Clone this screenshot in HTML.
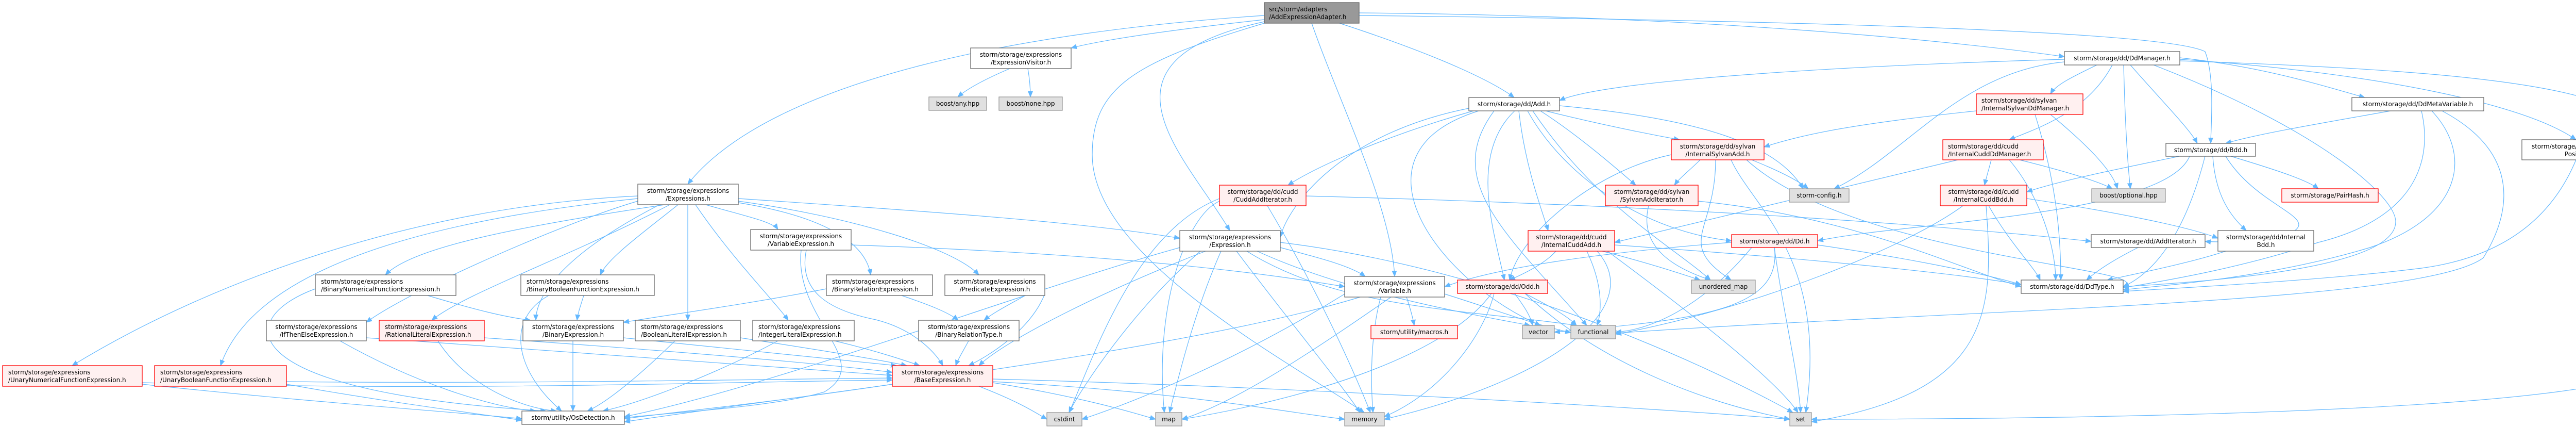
<!DOCTYPE html>
<html><head><meta charset="utf-8"><style>
html,body{margin:0;padding:0;background:#fff;}
svg{display:block;}
text{font-family:"DejaVu Sans","Liberation Sans",sans-serif;font-size:12px;fill:#000;}
.e{fill:none;stroke:#63b8ff;stroke-width:1.2;}
.w{fill:#fff;stroke:#666;stroke-width:1.3;}
.r{fill:#fff0f0;stroke:#ff0000;stroke-width:1.3;}
.g{fill:#e0e0e0;stroke:#999;stroke-width:1.3;}
.k{fill:#999;stroke:#666;stroke-width:1.3;}
</style></head><body>
<svg width="5158" height="828" viewBox="0 0 5158 828" xmlns="http://www.w3.org/2000/svg">
<defs><marker id="a" markerWidth="12" markerHeight="10" refX="11" refY="5" orient="auto" markerUnits="userSpaceOnUse"><path d="M0,0 L12,5 L0,10 z" fill="#63b8ff"/></marker></defs>
<g class="e" marker-end="url(#a)">
<!-- root -->
<path d="M2454,30 C2000,60 1500,150 1335,357"/>
<path d="M2454,38 C2300,55 2150,75 2079,93"/>
<path d="M2454,42 C2100,120 2300,300 2387,447"/>
<path d="M2546,45 C2600,200 2700,400 2707,536"/>
<path d="M2600,45 C2800,110 2900,160 2939,189"/>
<path d="M2638,25 C3300,30 3800,80 4007,110"/>
<path d="M2454,45 C2200,120 2120,170 2120,300 C2120,500 2500,700 2648,800"/>
<path d="M2638,30 C3500,40 4200,60 4280,100 C4300,150 4291,250 4291,278"/>
<!-- ExpressionVisitor -->
<path d="M1960,133 C1920,150 1880,170 1859,188"/>
<path d="M1995,133 C1998,150 2000,170 2000,188"/>
<!-- Expressions.h -->
<path d="M1238,380 C800,400 400,550 140,709"/>
<path d="M1238,385 C900,420 500,500 428,709"/>
<path d="M1238,390 C1100,430 800,560 711,625"/>
<path d="M1290,397 C1000,440 800,480 748,533"/>
<path d="M1300,397 C1100,500 900,570 838,621"/>
<path d="M1316,397 C1250,450 1180,500 1165,533"/>
<path d="M1280,397 C1080,500 1040,580 1040,621"/>
<path d="M1335,397 L1335,621"/>
<path d="M1350,397 C1420,500 1500,580 1530,621"/>
<path d="M1370,397 C1450,420 1500,430 1510,445"/>
<path d="M1433,393 C1600,420 1680,470 1690,533"/>
<path d="M1433,390 C1650,420 1850,480 1900,533"/>
<path d="M1433,385 C1800,410 2100,430 2290,462"/>
<!-- leaves to OsDetection/Base -->
<path d="M276,745 C600,780 900,800 1013,812"/>
<path d="M276,742 C900,760 1400,740 1732,737"/>
<path d="M556,745 C750,780 950,805 1013,815"/>
<path d="M556,740 C1000,745 1500,735 1732,733"/>
<path d="M660,661 C800,740 950,790 1040,797"/>
<path d="M711,655 C1100,680 1500,710 1732,728"/>
<path d="M612,560 C450,620 450,760 1060,797"/>
<path d="M830,573 C920,600 980,615 1030,621"/>
<path d="M850,661 C900,740 1000,790 1080,797"/>
<path d="M940,655 C1300,680 1600,705 1732,722"/>
<path d="M1065,573 C980,620 1000,720 1090,797"/>
<path d="M1133,573 C1128,590 1122,605 1120,621"/>
<path d="M1112,661 L1112,797"/>
<path d="M1210,655 C1450,680 1650,700 1740,709"/>
<path d="M1310,661 C1250,720 1180,780 1140,797"/>
<path d="M1437,655 C1600,680 1720,700 1760,709"/>
<path d="M1510,661 C1400,720 1250,780 1170,797"/>
<path d="M1620,661 C1700,680 1760,700 1785,709"/>
<path d="M1565,485 C1550,560 1600,600 1700,620 C1780,640 1820,690 1830,709"/>
<path d="M1555,485 C1540,620 1700,700 1600,760 C1500,790 1300,800 1212,810"/>
<path d="M1652,475 C2100,490 2400,520 2610,556"/>
<path d="M1604,560 C1450,590 1300,610 1210,625"/>
<path d="M1750,573 C1800,590 1840,605 1860,621"/>
<path d="M1990,573 C1960,590 1930,605 1910,621"/>
<path d="M2028,570 C2000,640 1920,690 1880,709"/>
<path d="M1880,661 C1870,680 1860,695 1855,709"/>
<!-- BaseExpression -->
<path d="M1732,745 C1500,780 1300,800 1212,812"/>
<path d="M1900,749 C1980,780 2010,800 2032,813"/>
<path d="M1927,742 C2100,770 2200,800 2243,813"/>
<path d="M1927,740 C2300,760 2500,800 2610,813"/>
<path d="M1927,735 C2500,750 3200,790 3474,813"/>
<!-- Expression.h -->
<path d="M2340,487 C2150,560 1950,660 1900,709"/>
<path d="M2290,480 C2000,560 1500,750 1212,808"/>
<path d="M2370,487 C2320,600 2290,720 2270,800"/>
<path d="M2400,487 C2500,620 2600,740 2640,800"/>
<path d="M2485,480 C2560,500 2620,515 2650,536"/>
<path d="M2420,487 C2600,600 2850,600 3060,631"/>
<path d="M2440,487 C2600,560 2800,600 2970,631"/>
<path d="M2485,470 C2900,520 3300,700 3480,800"/>
<path d="M2330,487 C2200,600 2100,750 2075,800"/>
<!-- CuddAddIterator -->
<path d="M2367,385 C2200,450 2120,700 2075,800"/>
<path d="M2367,390 C2300,420 2240,600 2260,800"/>
<path d="M2460,399 C2550,550 2620,700 2660,800"/>
<path d="M2535,380 C3300,400 3800,440 4059,468"/>
<!-- Variable.h -->
<path d="M2730,576 C2738,600 2742,615 2745,631"/>
<path d="M2680,576 C2660,650 2660,740 2665,800"/>
<path d="M2640,576 C2300,680 1600,760 1212,818"/>
<path d="M2700,576 C2550,680 2400,780 2294,813"/>
<path d="M2610,570 C2400,700 2200,780 2100,813"/>
<path d="M2804,570 C2900,600 2980,630 3049,645"/>
<!-- Add.h -->
<path d="M2860,215 C2700,260 2560,320 2500,359"/>
<path d="M3000,215 C3100,240 3200,260 3260,271"/>
<path d="M2990,215 C3060,260 3130,320 3175,359"/>
<path d="M2948,215 C2960,320 2990,400 3005,447"/>
<path d="M2965,215 C3040,350 3200,450 3361,467"/>
<path d="M2940,215 C2850,300 2900,450 2920,543"/>
<path d="M3027,205 C3300,230 3450,280 3500,366"/>
<path d="M2975,215 C3100,400 3250,480 3320,543"/>
<path d="M2900,215 C2800,350 2920,450 3080,631"/>
<path d="M2870,215 C2600,300 2800,550 2990,631"/>
<path d="M2851,210 C2600,260 2500,400 2485,460"/>
<!-- InternalSylvanAdd -->
<path d="M3300,310 C3280,330 3260,345 3250,359"/>
<path d="M3400,310 C3450,330 3490,350 3510,366"/>
<path d="M3330,310 C3330,450 3250,470 3360,543"/>
<path d="M3360,310 C3400,400 3550,500 3505,800"/>
<path d="M3244,300 C3100,330 2950,450 2930,543"/>
<path d="M3390,310 C3600,500 4200,520 4121,556"/>
<!-- SylvanAddIterator -->
<path d="M3200,399 C3180,480 3250,520 3320,543"/>
<path d="M3296,390 C3600,420 3800,520 3923,556"/>
<!-- InternalCuddAdd -->
<path d="M3020,487 C3000,510 2960,530 2930,543"/>
<path d="M3110,487 C3200,510 3260,530 3300,543"/>
<path d="M3080,487 C3110,550 3110,600 3100,631"/>
<path d="M3120,487 C3300,620 3450,740 3490,800"/>
<path d="M3100,487 C3200,600 3000,740 2687,813"/>
<path d="M3134,475 C3500,500 3800,530 3923,552"/>
<!-- Dd.h -->
<path d="M3444,480 C3460,600 3490,720 3495,800"/>
<path d="M3444,480 C3460,600 3300,620 3017,644"/>
<path d="M3400,480 C3300,600 3200,640 3136,644"/>
<path d="M3528,475 C3700,500 3850,530 3923,552"/>
<path d="M3361,470 C3100,490 2900,520 2804,556"/>
<!-- Odd.h -->
<path d="M2940,569 C2955,590 2970,610 2975,631"/>
<path d="M2960,569 C3000,590 3040,610 3060,631"/>
<path d="M2900,569 C2880,650 2800,760 2687,808"/>
<path d="M2895,569 C2800,700 2500,780 2294,813"/>
<path d="M2960,569 C3100,700 3300,780 3474,813"/>
<!-- DdManager -->
<path d="M4070,126 C4020,150 3990,165 3980,182"/>
<path d="M4100,126 C4050,220 3950,250 3900,271"/>
<path d="M4135,126 C4200,200 4250,250 4265,278"/>
<path d="M4122,126 C4125,250 4130,320 4135,366"/>
<path d="M4231,112 C4400,130 4520,170 4590,189"/>
<path d="M4231,115 C4600,140 4900,200 5000,271"/>
<path d="M4007,115 C3500,130 3100,160 3027,195"/>
<path d="M4007,120 C3800,140 3700,300 3560,366"/>
<path d="M4231,118 C4900,140 5150,180 5150,300 L5150,700 C5150,800 4000,813 3516,813"/>
<path d="M4180,126 C4500,250 4650,380 4650,430 C4650,520 4300,545 4121,556"/>
<!-- InternalSylvanDdManager -->
<path d="M3980,222 C4050,280 4100,330 4110,366"/>
<path d="M3950,222 C3990,350 4000,450 4000,543"/>
<path d="M3836,215 C3600,240 3500,260 3424,285"/>
<!-- InternalCuddDdManager -->
<path d="M3865,310 C3860,330 3855,345 3852,359"/>
<path d="M3920,310 C4000,330 4070,350 4100,366"/>
<path d="M3900,310 C3960,380 3990,480 3990,543"/>
<path d="M3800,310 C3500,380 3300,430 3134,470"/>
<!-- Bdd.h -->
<path d="M4230,303 C4100,330 4000,350 3934,372"/>
<path d="M4330,303 C4420,330 4480,350 4500,366"/>
<path d="M4295,303 C4300,380 4330,420 4360,447"/>
<path d="M4280,303 C4250,420 4200,520 4121,556"/>
<path d="M4320,303 C4380,400 4500,420 4450,450 C4400,470 4300,470 4280,468"/>
<path d="M4250,303 C4200,420 3700,430 3528,467"/>
<!-- InternalCuddBdd -->
<path d="M3860,399 C3900,470 3950,520 3960,543"/>
<path d="M3934,385 C4100,410 4250,440 4305,462"/>
<path d="M3855,399 C3870,600 3870,760 3516,818"/>
<path d="M3810,399 C3700,480 3400,600 3136,648"/>
<!-- AddIterator / InternalBdd -->
<path d="M4150,480 C4100,505 4070,525 4050,543"/>
<path d="M4320,487 C4250,510 4150,530 4090,543"/>
<!-- DdMetaVariable -->
<path d="M4640,215 C4500,240 4380,260 4320,278"/>
<path d="M4700,215 C4720,300 4700,420 4500,470 C4350,520 4200,545 4121,558"/>
<path d="M4720,215 C4800,300 4780,420 4600,480 C4400,540 4200,553 4121,562"/>
<path d="M4740,215 C4900,300 4870,420 4820,500 C4700,590 3800,600 3136,646"/>
<!-- MetaVariablePosition -->
<path d="M5000,310 C4950,430 4850,500 4700,520 C4500,545 4200,560 4121,565"/>
</g>
<!-- nodes -->
<g>
<rect class="k" x="2454" y="5" width="184" height="40"/><text x="2463" y="22">src/storm/adapters</text><text x="2463" y="37">/AddExpressionAdapter.h</text>

<rect class="w" x="1238" y="357" width="195" height="40"/><text x="1335.5" y="374" text-anchor="middle">storm/storage/expressions</text><text x="1335.5" y="389" text-anchor="middle">/Expressions.h</text>
<rect class="w" x="1884" y="93" width="195" height="40"/><text x="1981.5" y="110" text-anchor="middle">storm/storage/expressions</text><text x="1981.5" y="125" text-anchor="middle">/ExpressionVisitor.h</text>
<rect class="g" x="1803" y="188" width="112" height="26"/><text x="1859" y="205" text-anchor="middle">boost/any.hpp</text>
<rect class="g" x="1939" y="188" width="123" height="26"/><text x="2000.5" y="205" text-anchor="middle">boost/none.hpp</text>

<rect class="r" x="5" y="709" width="271" height="40"/><text x="16" y="726">storm/storage/expressions</text><text x="16" y="741">/UnaryNumericalFunctionExpression.h</text>
<rect class="r" x="300" y="709" width="256" height="40"/><text x="311" y="726">storm/storage/expressions</text><text x="311" y="741">/UnaryBooleanFunctionExpression.h</text>
<rect class="w" x="517" y="621" width="194" height="40"/><text x="614" y="638" text-anchor="middle">storm/storage/expressions</text><text x="614" y="653" text-anchor="middle">/IfThenElseExpression.h</text>
<rect class="w" x="612" y="533" width="273" height="40"/><text x="623" y="550">storm/storage/expressions</text><text x="623" y="565">/BinaryNumericalFunctionExpression.h</text>
<rect class="r" x="736" y="621" width="204" height="40"/><text x="747" y="638">storm/storage/expressions</text><text x="747" y="653">/RationalLiteralExpression.h</text>
<rect class="w" x="1011" y="533" width="259" height="40"/><text x="1022" y="550">storm/storage/expressions</text><text x="1022" y="565">/BinaryBooleanFunctionExpression.h</text>
<rect class="w" x="1015" y="621" width="195" height="40"/><text x="1112.5" y="638" text-anchor="middle">storm/storage/expressions</text><text x="1112.5" y="653" text-anchor="middle">/BinaryExpression.h</text>
<rect class="w" x="1233" y="621" width="204" height="40"/><text x="1244" y="638">storm/storage/expressions</text><text x="1244" y="653">/BooleanLiteralExpression.h</text>
<rect class="w" x="1461" y="621" width="197" height="40"/><text x="1472" y="638">storm/storage/expressions</text><text x="1472" y="653">/IntegerLiteralExpression.h</text>
<rect class="w" x="1457" y="445" width="195" height="40"/><text x="1554.5" y="462" text-anchor="middle">storm/storage/expressions</text><text x="1554.5" y="477" text-anchor="middle">/VariableExpression.h</text>
<rect class="w" x="1604" y="533" width="206" height="40"/><text x="1615" y="550">storm/storage/expressions</text><text x="1615" y="565">/BinaryRelationExpression.h</text>
<rect class="w" x="1834" y="533" width="194" height="40"/><text x="1931" y="550" text-anchor="middle">storm/storage/expressions</text><text x="1931" y="565" text-anchor="middle">/PredicateExpression.h</text>
<rect class="w" x="1783" y="621" width="195" height="40"/><text x="1880.5" y="638" text-anchor="middle">storm/storage/expressions</text><text x="1880.5" y="653" text-anchor="middle">/BinaryRelationType.h</text>
<rect class="r" x="1732" y="709" width="195" height="40"/><text x="1829.5" y="726" text-anchor="middle">storm/storage/expressions</text><text x="1829.5" y="741" text-anchor="middle">/BaseExpression.h</text>
<rect class="w" x="1013" y="797" width="199" height="26"/><text x="1112.5" y="814" text-anchor="middle">storm/utility/OsDetection.h</text>

<rect class="w" x="2290" y="447" width="195" height="40"/><text x="2387.5" y="464" text-anchor="middle">storm/storage/expressions</text><text x="2387.5" y="479" text-anchor="middle">/Expression.h</text>
<rect class="r" x="2367" y="359" width="168" height="40"/><text x="2451" y="376" text-anchor="middle">storm/storage/dd/cudd</text><text x="2451" y="391" text-anchor="middle">/CuddAddIterator.h</text>
<rect class="w" x="2610" y="536" width="194" height="40"/><text x="2707" y="553" text-anchor="middle">storm/storage/expressions</text><text x="2707" y="568" text-anchor="middle">/Variable.h</text>
<rect class="r" x="2661" y="631" width="168" height="26"/><text x="2745" y="648" text-anchor="middle">storm/utility/macros.h</text>
<rect class="g" x="2032" y="800" width="68" height="26"/><text x="2066" y="817" text-anchor="middle">cstdint</text>
<rect class="g" x="2243" y="800" width="51" height="26"/><text x="2268.5" y="817" text-anchor="middle">map</text>
<rect class="g" x="2610" y="800" width="77" height="26"/><text x="2648.5" y="817" text-anchor="middle">memory</text>

<rect class="r" x="2829" y="543" width="175" height="26"/><text x="2916.5" y="560" text-anchor="middle">storm/storage/dd/Odd.h</text>
<rect class="w" x="2851" y="189" width="176" height="26"/><text x="2939" y="206" text-anchor="middle">storm/storage/dd/Add.h</text>
<rect class="r" x="3244" y="271" width="180" height="39"/><text x="3334" y="288" text-anchor="middle">storm/storage/dd/sylvan</text><text x="3334" y="303" text-anchor="middle">/InternalSylvanAdd.h</text>
<rect class="r" x="3116" y="359" width="180" height="40"/><text x="3206" y="376" text-anchor="middle">storm/storage/dd/sylvan</text><text x="3206" y="391" text-anchor="middle">/SylvanAddIterator.h</text>
<rect class="g" x="3473" y="366" width="116" height="26"/><text x="3531" y="383" text-anchor="middle">storm-config.h</text>
<rect class="r" x="2966" y="447" width="168" height="40"/><text x="3050" y="464" text-anchor="middle">storm/storage/dd/cudd</text><text x="3050" y="479" text-anchor="middle">/InternalCuddAdd.h</text>
<rect class="r" x="3361" y="455" width="167" height="25"/><text x="3444.5" y="472" text-anchor="middle">storm/storage/dd/Dd.h</text>
<rect class="g" x="3283" y="543" width="124" height="26"/><text x="3345" y="560" text-anchor="middle">unordered_map</text>
<rect class="g" x="2955" y="631" width="62" height="26"/><text x="2986" y="648" text-anchor="middle">vector</text>
<rect class="g" x="3049" y="631" width="87" height="26"/><text x="3092.5" y="648" text-anchor="middle">functional</text>
<rect class="g" x="3474" y="800" width="42" height="26"/><text x="3495" y="817" text-anchor="middle">set</text>

<rect class="w" x="4007" y="100" width="224" height="26"/><text x="4119" y="117" text-anchor="middle">storm/storage/dd/DdManager.h</text>
<rect class="r" x="3836" y="182" width="207" height="40"/><text x="3846" y="199">storm/storage/dd/sylvan</text><text x="3846" y="214">/InternalSylvanDdManager.h</text>
<rect class="r" x="3771" y="271" width="195" height="39"/><text x="3781" y="288">storm/storage/dd/cudd</text><text x="3781" y="303">/InternalCuddDdManager.h</text>
<rect class="w" x="4204" y="278" width="174" height="25"/><text x="4291" y="295" text-anchor="middle">storm/storage/dd/Bdd.h</text>
<rect class="g" x="4060" y="366" width="143" height="26"/><text x="4131.5" y="383" text-anchor="middle">boost/optional.hpp</text>
<rect class="r" x="4429" y="366" width="187" height="26"/><text x="4522.5" y="383" text-anchor="middle">storm/storage/PairHash.h</text>
<rect class="r" x="3766" y="359" width="168" height="40"/><text x="3850" y="376" text-anchor="middle">storm/storage/dd/cudd</text><text x="3850" y="391" text-anchor="middle">/InternalCuddBdd.h</text>
<rect class="w" x="4059" y="455" width="221" height="25"/><text x="4169.5" y="472" text-anchor="middle">storm/storage/dd/AddIterator.h</text>
<rect class="w" x="4305" y="447" width="186" height="40"/><text x="4398" y="464" text-anchor="middle">storm/storage/dd/Internal</text><text x="4398" y="479" text-anchor="middle">Bdd.h</text>
<rect class="w" x="3923" y="543" width="198" height="26"/><text x="4022" y="560" text-anchor="middle">storm/storage/dd/DdType.h</text>
<rect class="w" x="4565" y="189" width="256" height="26"/><text x="4693" y="206" text-anchor="middle">storm/storage/dd/DdMetaVariable.h</text>
<rect class="w" x="4895" y="271" width="224" height="39"/><text x="5007" y="288" text-anchor="middle">storm/storage/dd/MetaVariable</text><text x="5007" y="303" text-anchor="middle">Position.h</text>
</g>
</svg>
</body></html>
